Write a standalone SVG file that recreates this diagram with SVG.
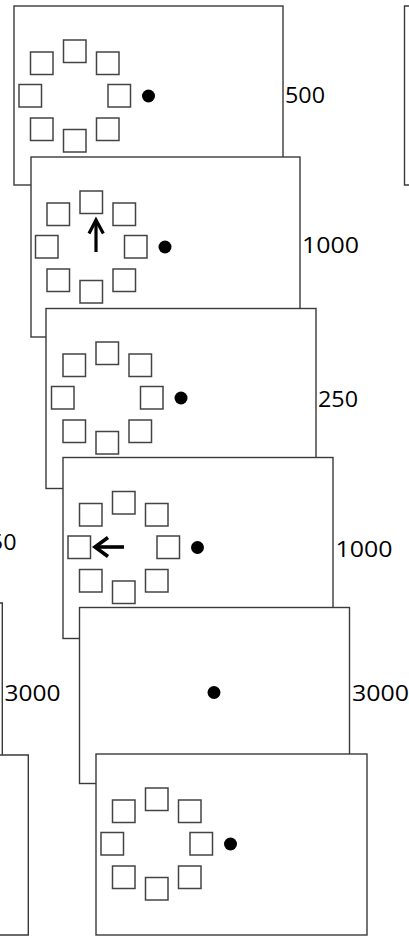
<svg xmlns="http://www.w3.org/2000/svg" xmlns:xlink="http://www.w3.org/1999/xlink" width="409" height="936" viewBox="0 0 409 936">
  <style>
    .frame { fill: #ffffff; stroke: #3a3a3a; stroke-width: 1.4; }
    .box { fill: #ffffff; stroke: #444444; stroke-width: 1.5; }
    .dot { fill: #000000; }
    .cue { fill: none; stroke: #000000; stroke-linecap: butt; stroke-linejoin: miter; }
    .lbl { font-family: "Open Sans", "Liberation Sans", sans-serif; font-size: 21px; fill: #000000; }
  </style>
  <defs>
    <!-- eight placeholder boxes around the centre, plus the fixation dot to the right -->
    <g id="ring">
      <rect class="box" x="49.5" y="34" width="22.5" height="22.5"/>
      <rect class="box" x="16.5" y="46" width="22.5" height="22.5"/>
      <rect class="box" x="82.5" y="46" width="22.5" height="22.5"/>
      <rect class="box" x="5" y="78.5" width="22.5" height="22.5"/>
      <rect class="box" x="94" y="78.5" width="22.5" height="22.5"/>
      <rect class="box" x="16.5" y="112" width="22.5" height="22.5"/>
      <rect class="box" x="49.5" y="123.5" width="22.5" height="22.5"/>
      <rect class="box" x="82.5" y="112" width="22.5" height="22.5"/>
      <circle class="dot" cx="134.5" cy="90" r="6.5"/>
    </g>
  </defs>

  <!-- partial frames of the neighbouring sequences at the edges -->
  <g id="edge-right-top">
    <path class="frame" d="M409 6 H404.5 V185 H409"/>
  </g>
  <g id="edge-left-a">
    <text class="lbl" x="16.5" y="550" text-anchor="end" textLength="40" lengthAdjust="spacingAndGlyphs">250</text>
  </g>
  <g id="edge-left-b">
    <path class="frame" d="M0 603 H2.3 V780 H0"/>
    <text class="lbl" x="4.5" y="700.5" textLength="56" lengthAdjust="spacingAndGlyphs">3000</text>
  </g>
  <g id="edge-left-c">
    <path class="frame" d="M0 755 H28.3 V935 H0"/>
  </g>

  <!-- main trial sequence, each screen stacked over the previous one -->
  <g id="screen-1">
    <rect class="frame" x="14" y="6" width="269" height="179"/>
    <use xlink:href="#ring" transform="translate(14 6)"/>
    <text class="lbl" x="285" y="103" textLength="40" lengthAdjust="spacingAndGlyphs">500</text>
  </g>

  <g id="screen-2">
    <rect class="frame" x="31" y="157" width="269" height="180"/>
    <use xlink:href="#ring" transform="translate(30.5 157)"/>
    <path class="cue" stroke-width="3.2" d="M96 252 V220"/>
    <path class="cue" stroke-width="3.2" d="M89 233.5 L96 220 L103.3 233.5"/>
    <text class="lbl" x="302" y="253" textLength="57" lengthAdjust="spacingAndGlyphs">1000</text>
  </g>

  <g id="screen-3">
    <rect class="frame" x="46" y="308.5" width="270" height="180"/>
    <use xlink:href="#ring" transform="translate(46.5 308)"/>
    <text class="lbl" x="318" y="406.5" textLength="40" lengthAdjust="spacingAndGlyphs">250</text>
  </g>

  <g id="screen-4">
    <rect class="frame" x="63" y="457.5" width="270" height="181"/>
    <use xlink:href="#ring" transform="translate(63 457.5)"/>
    <path class="cue" stroke-width="3.6" d="M124 547 H95"/>
    <path class="cue" stroke-width="3.6" d="M108 537.5 L95 547 L108 556.5"/>
    <text class="lbl" x="335.5" y="557" textLength="57" lengthAdjust="spacingAndGlyphs">1000</text>
  </g>

  <g id="screen-5">
    <rect class="frame" x="79.5" y="607.5" width="270" height="176"/>
    <circle class="dot" cx="214" cy="692.5" r="6.5"/>
    <text class="lbl" x="352" y="700.5" textLength="57" lengthAdjust="spacingAndGlyphs">3000</text>
  </g>

  <g id="screen-6">
    <rect class="frame" x="96" y="754" width="271" height="181"/>
    <use xlink:href="#ring" transform="translate(96 754)"/>
  </g>

  <g id="connectors"/>
</svg>
